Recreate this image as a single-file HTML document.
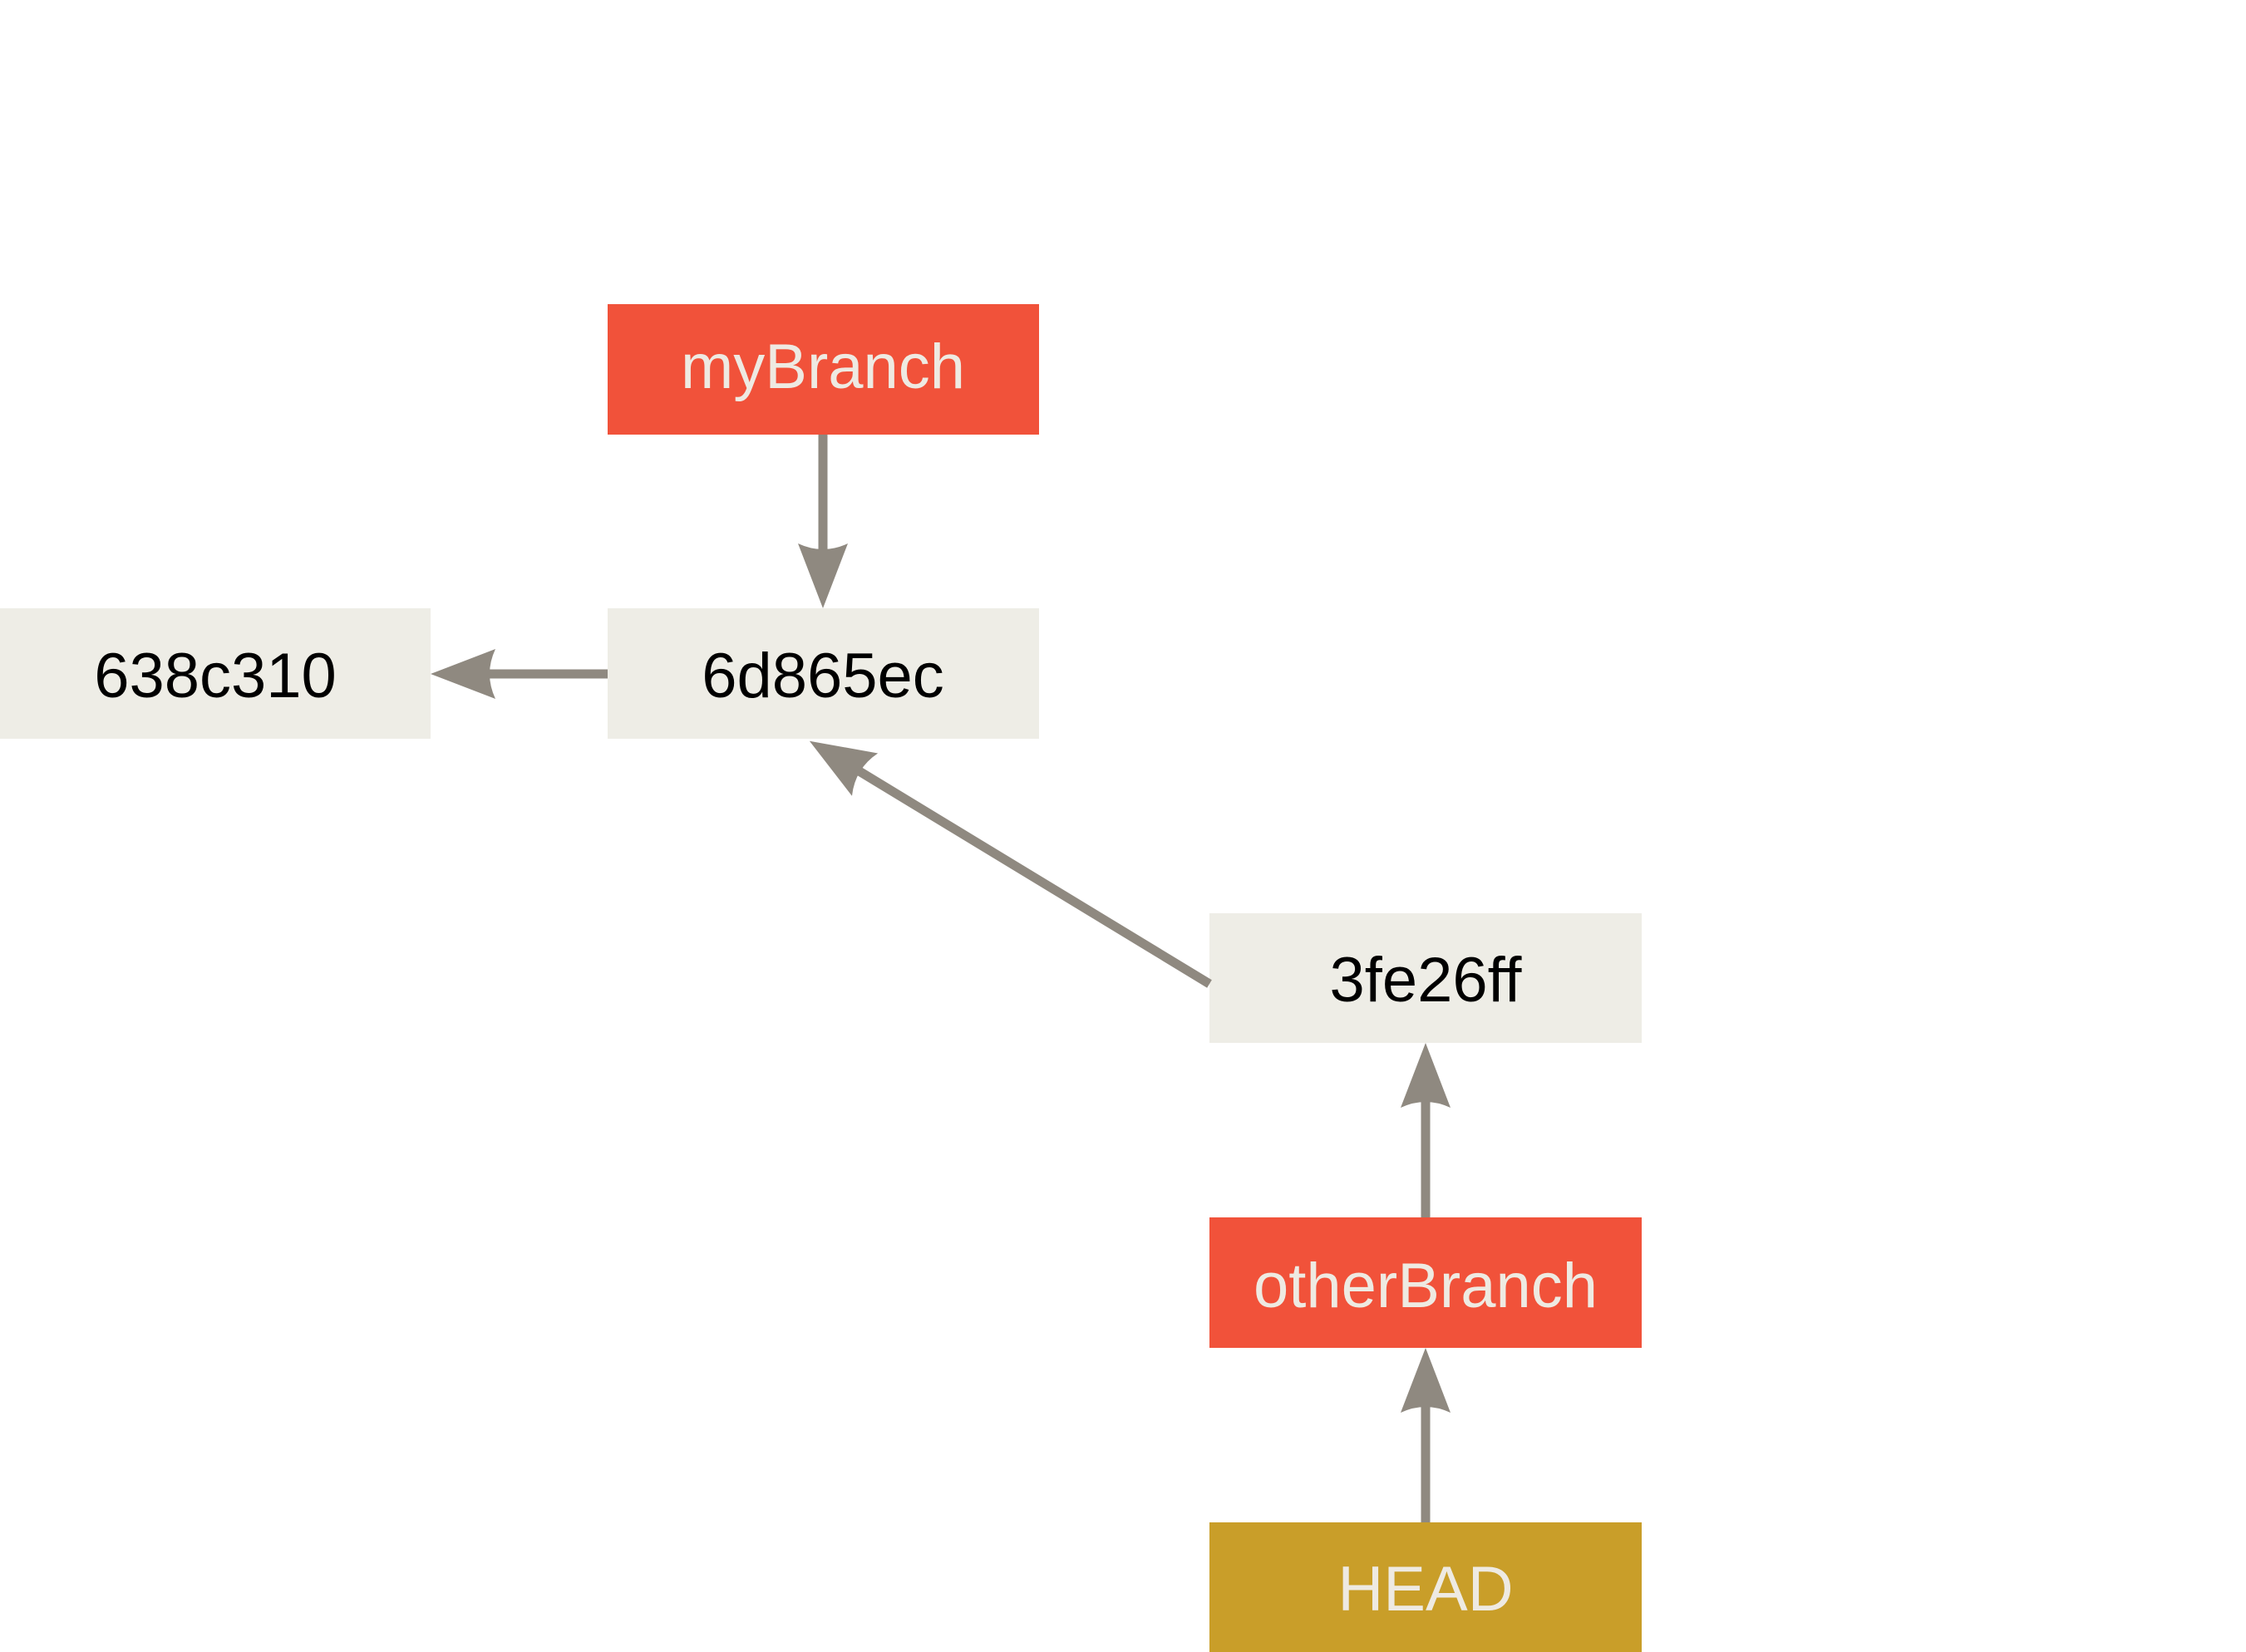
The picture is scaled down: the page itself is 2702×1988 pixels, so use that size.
<!DOCTYPE html>
<html><head><meta charset="utf-8"><style>html,body{margin:0;padding:0;background:#fff}svg{display:block}</style></head>
<body>
<svg width="2702" height="1988" viewBox="0 0 2702 1988" xmlns="http://www.w3.org/2000/svg" font-family="Liberation Sans, sans-serif" font-size="76" text-anchor="middle">
<defs>
<marker id="ah" markerUnits="userSpaceOnUse" markerWidth="90" markerHeight="70" refX="10" refY="30" orient="auto">
<path d="M78,30 L0,0 Q14,30 0,60 Z" fill="#8f8980"/>
</marker>
</defs>
<g fill="#eeede6">
<rect x="0" y="732" width="518" height="157"/>
<rect x="731" y="732" width="519" height="157"/>
<rect x="1455" y="1099" width="520" height="156"/>
</g>
<rect x="731" y="366" width="519" height="157" fill="#f1523a"/>
<rect x="1455" y="1465" width="520" height="157" fill="#f1523a"/>
<rect x="1455" y="1832" width="520" height="156" fill="#c99e29"/>
<g stroke="#8f8980" stroke-width="11" fill="none" marker-end="url(#ah)">
<line x1="990" y1="523" x2="990" y2="664"/>
<line x1="731" y1="811" x2="586" y2="811"/>
<line x1="1455" y1="1184" x2="1032" y2="927"/>
<line x1="1715" y1="1465" x2="1715" y2="1323"/>
<line x1="1715" y1="1832" x2="1715" y2="1690"/>
</g>
<g fill="#000">
<text x="259" y="839">638c310</text>
<text x="990" y="839">6d865ec</text>
<text x="1715" y="1205">3fe26ff</text>
</g>
<g fill="#eeeae2">
<text x="990" y="467">myBranch</text>
<text x="1715" y="1573">otherBranch</text>
<text x="1715" y="1938">HEAD</text>
</g>
</svg>
</body></html>
